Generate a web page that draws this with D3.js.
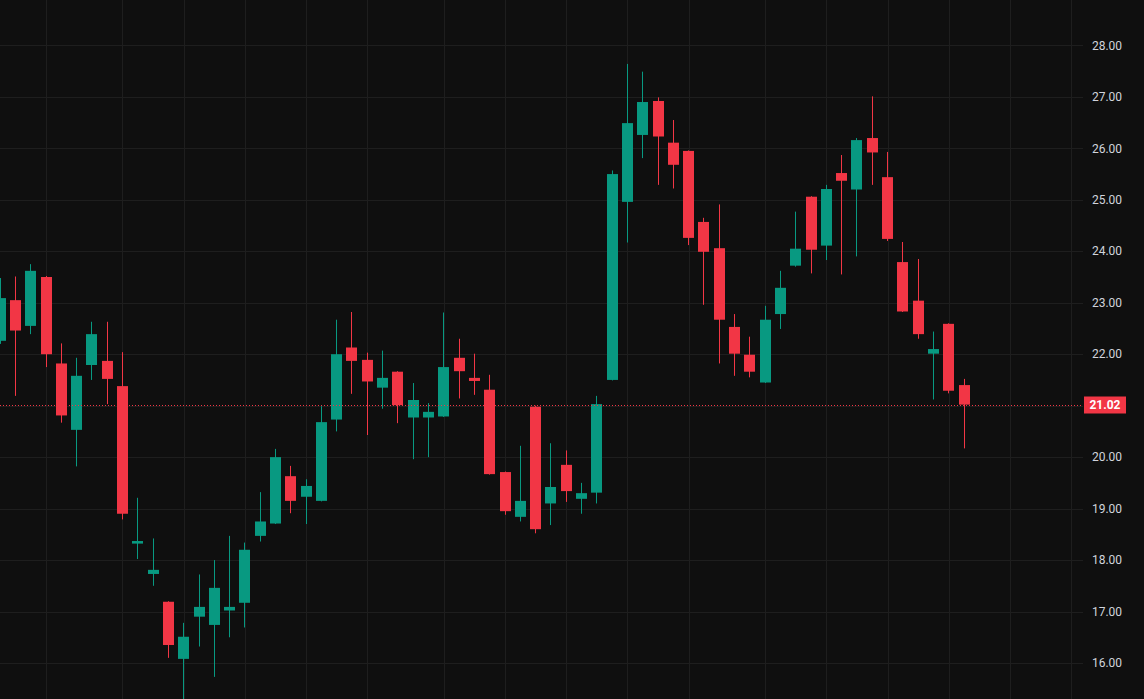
<!DOCTYPE html>
<html>
<head>
<meta charset="utf-8">
<script src="https://cdn.jsdelivr.net/npm/d3@7"></script>
<style>
  html, body { margin: 0; padding: 0; background: #0f0f0f; overflow: hidden; }
  svg { display: block; }
</style>
</head>
<body>
<svg id="chart" width="1144" height="699"></svg>
<script>
// ---- Data ----
const opens  = [22.26,23.05,22.55,23.50,21.82,20.53,21.79,21.87,21.38,18.32,17.73,17.19,16.08,16.90,16.74,17.02,17.17,18.47,18.71,19.63,19.23,19.15,20.73,22.13,21.89,21.35,21.66,20.77,20.77,20.79,21.93,21.54,21.31,19.71,18.84,20.98,19.10,19.85,19.19,19.31,21.50,24.96,26.26,26.92,26.11,25.95,24.57,24.06,22.53,21.99,21.45,22.78,23.72,25.06,24.11,25.52,25.20,26.20,25.44,23.79,23.04,22.01,22.59,21.40];
const highs  = [23.48,23.51,23.75,23.52,22.21,21.93,22.63,22.63,22.04,19.21,18.42,17.20,16.78,17.72,18.00,18.47,18.34,19.32,20.16,19.83,19.57,20.99,22.67,22.82,22.03,22.07,21.67,21.44,21.05,22.81,22.30,22.01,21.60,19.72,20.22,21.00,20.27,20.13,19.50,21.19,25.57,27.64,27.49,26.99,26.55,25.96,24.65,24.91,22.78,22.34,22.94,23.62,24.77,25.07,25.29,25.87,26.20,27.01,25.93,24.18,23.85,22.44,22.60,21.52];
const lows   = [22.20,21.19,22.39,21.75,20.67,19.82,21.50,21.03,18.79,18.02,17.50,16.10,15.30,16.32,15.73,16.50,16.69,18.36,18.70,18.91,18.70,19.14,20.50,21.23,20.43,20.94,20.66,19.96,20.00,20.78,21.14,21.21,19.66,18.88,18.75,18.52,18.68,19.13,18.90,19.10,21.49,24.17,25.81,25.29,25.22,24.12,22.96,21.82,21.58,21.55,21.44,22.49,23.70,23.57,23.83,23.55,23.90,25.29,24.20,22.82,22.30,21.12,21.24,20.17];
const closes = [23.09,22.46,23.62,22.00,20.81,21.58,22.39,21.52,18.90,18.37,17.81,16.35,16.51,17.09,17.46,17.09,18.20,18.75,20.00,19.15,19.44,20.68,22.00,21.87,21.47,21.54,21.01,21.11,20.88,21.75,21.67,21.48,19.67,18.95,19.15,18.60,19.42,19.34,19.30,21.03,25.50,26.49,26.90,26.23,25.68,24.26,23.99,22.67,22.01,21.66,22.67,23.29,24.05,24.03,25.21,25.37,26.16,25.92,24.24,22.83,22.39,22.10,21.29,21.02];
const priceTicks = [16,17,18,19,20,21,22,23,24,25,26,27,28];
const timeGridBars = [3,8,12,16,20,24,29,33,37,41,45,50,54,58,62,66,70];
const lastPrice = 21.02;

// ---- Layout ----
const W = 1144, H = 699;
const plotRight = 1083;
const UP = "#089981", DOWN = "#f23645";

const svg = d3.select("#chart");
svg.append("rect").attr("width", W).attr("height", H).attr("fill", "#0f0f0f");

const x = d3.scaleLinear().domain([0, 63]).range([0.1, 964]);
const y = d3.scaleLinear().domain([16, 28]).range([663, 45.4]);
const crisp = v => Math.round(v) + 0.5;

// grid
const grid = svg.append("g").attr("stroke", "#1e1e1e").attr("stroke-width", 1);
grid.selectAll("line.h").data(priceTicks).join("line")
  .attr("class", "h")
  .attr("x1", 0).attr("x2", plotRight)
  .attr("y1", d => crisp(y(d))).attr("y2", d => crisp(y(d)));
grid.selectAll("line.v").data(timeGridBars).join("line")
  .attr("class", "v")
  .attr("x1", d => crisp(x(d))).attr("x2", d => crisp(x(d)))
  .attr("y1", 0).attr("y2", H);

// candles
const data = opens.map((o, i) => ({ i, o, h: highs[i], l: lows[i], c: closes[i] }));
const bodyW = 11;
const candles = svg.append("g").selectAll("g").data(data).join("g");
candles.append("line")
  .attr("x1", d => crisp(x(d.i) - 0.5)).attr("x2", d => crisp(x(d.i) - 0.5))
  .attr("y1", d => y(d.h)).attr("y2", d => y(d.l))
  .attr("stroke", d => d.c >= d.o ? UP : DOWN)
  .attr("stroke-width", 1);
candles.append("rect")
  .attr("x", d => Math.round(x(d.i) - bodyW / 2))
  .attr("width", bodyW)
  .attr("y", d => y(Math.max(d.o, d.c)))
  .attr("height", d => Math.max(1, Math.abs(y(d.o) - y(d.c))))
  .attr("fill", d => d.c >= d.o ? UP : DOWN);

// last price line
svg.append("line")
  .attr("x1", 0).attr("x2", plotRight)
  .attr("y1", crisp(y(lastPrice))).attr("y2", crisp(y(lastPrice)))
  .attr("stroke", DOWN).attr("stroke-width", 1)
  .attr("stroke-dasharray", "1,2");

// price axis labels
const axisG = svg.append("g");
axisG.selectAll("text").data(priceTicks.filter(d => d !== 21)).join("text")
  .attr("x", 1107).attr("y", d => y(d))
  .attr("dy", "0.35em")
  .attr("text-anchor", "middle")
  .attr("font-family", "Roboto, 'Liberation Sans', sans-serif")
  .attr("font-size", 12)
  .attr("fill", "#d1d4dc")
  .text(d => d3.format(".2f")(d));

// last price label
const ly = y(lastPrice);
svg.append("rect")
  .attr("x", 1084).attr("y", Math.round(ly) - 8.5)
  .attr("width", 42).attr("height", 17)
  .attr("fill", DOWN);
svg.append("text")
  .attr("x", 1105).attr("y", ly)
  .attr("dy", "0.35em")
  .attr("text-anchor", "middle")
  .attr("font-family", "Roboto, 'Liberation Sans', sans-serif")
  .attr("font-size", 12)
  .attr("font-weight", "bold")
  .attr("fill", "#ffffff")
  .text(d3.format(".2f")(lastPrice));
</script>
</body>
</html>
